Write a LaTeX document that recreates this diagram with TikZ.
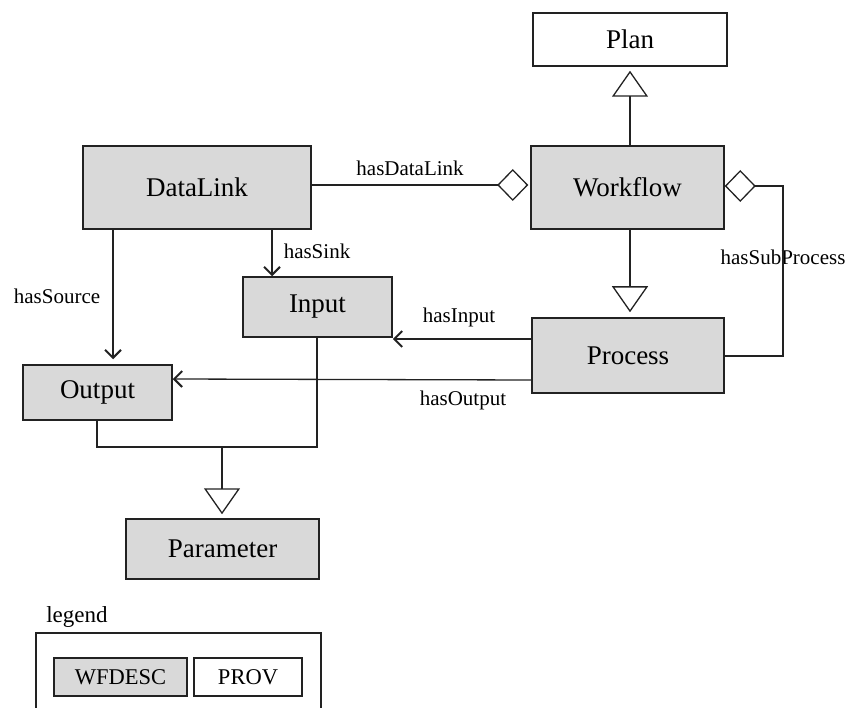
\documentclass[tikz,border=0pt]{standalone}
\usepackage{fontspec}
\setmainfont{Liberation Serif}
\usetikzlibrary{arrows.meta}
\definecolor{wf}{HTML}{D9D9D9}
\definecolor{ln}{HTML}{222222}
\begin{document}
\begin{tikzpicture}[x=1pt,y=-1pt,
  cls/.style={draw=ln,line width=1.5pt,inner sep=0pt,font=\fontsize{27}{30}\selectfont},
  wfcls/.style={cls,fill=wf},
  lbl/.style={inner sep=0pt,font=\fontsize{21}{24}\selectfont},
  link/.style={draw=ln,line width=1.3pt},
  inherit/.style={link,-{Triangle[open,length=26pt,width=36pt,line width=1.3pt]}},
  aggr/.style={link,{Diamond[open,length=31pt,width=32pt,line width=1.3pt]}-},
  rel/.style={link,-{Straight Barb[length=8pt,width=16pt,line width=2pt]}}]
\useasboundingbox (0,0) rectangle (848,708);
% classes
\node[cls,minimum width=194pt,minimum height=53pt] (plan) at (630,39.5) {Plan};
\node[wfcls,minimum width=228pt,minimum height=83pt] (datalink) at (197,187.5) {DataLink};
\node[wfcls,minimum width=193pt,minimum height=83pt] (workflow) at (627.5,187.5) {Workflow};
\node[wfcls,minimum width=149pt,minimum height=60pt] (input) at (317.5,307) {Input};
\node[wfcls,minimum width=192pt,minimum height=75pt] (process) at (628,355.5) {Process};
\node[wfcls,minimum width=149pt,minimum height=55pt] (output) at (97.5,392.5) {Output};
\node[wfcls,minimum width=193pt,minimum height=60pt] (parameter) at (222.5,549) {Parameter};
% coordinates
\coordinate (wfTop) at (630,146);
\coordinate (wfBot) at (630,229);
\coordinate (spR) at (783,186);
\coordinate (joinL) at (97,447);
\coordinate (joinR) at (317,447);
\coordinate (joinM) at (222,447);
% inheritance
\draw[inherit,shorten >=4pt] (wfTop) -- (wfTop |- plan.south);
\draw[inherit,shorten >=5pt] (wfBot) -- (wfBot |- process.north);
\draw[link] (output.south -| joinL) -- (joinL) -- (joinR) -- (input.south -| joinR);
\draw[inherit,shorten >=4pt] (joinM) -- (joinM |- parameter.north);
% aggregation
\draw[aggr,shorten <=2pt] (workflow.west |- 0,185) -- (datalink.east |- 0,185)
  node[lbl,pos=0.55,above=9pt] (lDL) {hasDataLink};
\node[lbl] (lSP) at (783,257) {hasSubProcess};
\draw[aggr] (workflow.east |- 0,186) -- (spR) -- (spR |- 0,356) -- (process.east |- 0,356);
% relations
\draw[rel] (datalink.south -| 272,0) -- (input.north -| 272,0);
\node[lbl] (lSink) at (317,251) {hasSink};
\draw[rel,shorten >=5pt] (datalink.south -| 113,0) -- (output.north -| 113,0);
\node[lbl] (lSrc) at (57,296) {hasSource};
\draw[rel] (process.west |- 0,339) -- (input.east |- 0,339);
\node[lbl] (lIn) at (459,317) {hasInput};
\draw[rel] (process.west |- 0,380) -- (output.east |- 0,379);
\node[lbl] (lOut) at (463,400) {hasOutput};
% legend
\node[font=\fontsize{23}{26}\selectfont,inner sep=0pt] (legend) at (77,617) {legend};
\coordinate (lgA) at (36,708);
\coordinate (lgB) at (36,633);
\coordinate (lgC) at (321,633);
\coordinate (lgD) at (321,708);
\draw[draw=ln,line width=1.3pt] (lgA) -- (lgB) -- (lgC) -- (lgD);
\node[wfcls,font=\fontsize{22.5}{25}\selectfont,minimum width=133pt,minimum height=38pt] (lwf) at (120.5,677) {WFDESC};
\node[cls,font=\fontsize{22.5}{25}\selectfont,minimum width=108pt,minimum height=38pt] (lprov) at (248,677) {PROV};
\end{tikzpicture}
\end{document}
